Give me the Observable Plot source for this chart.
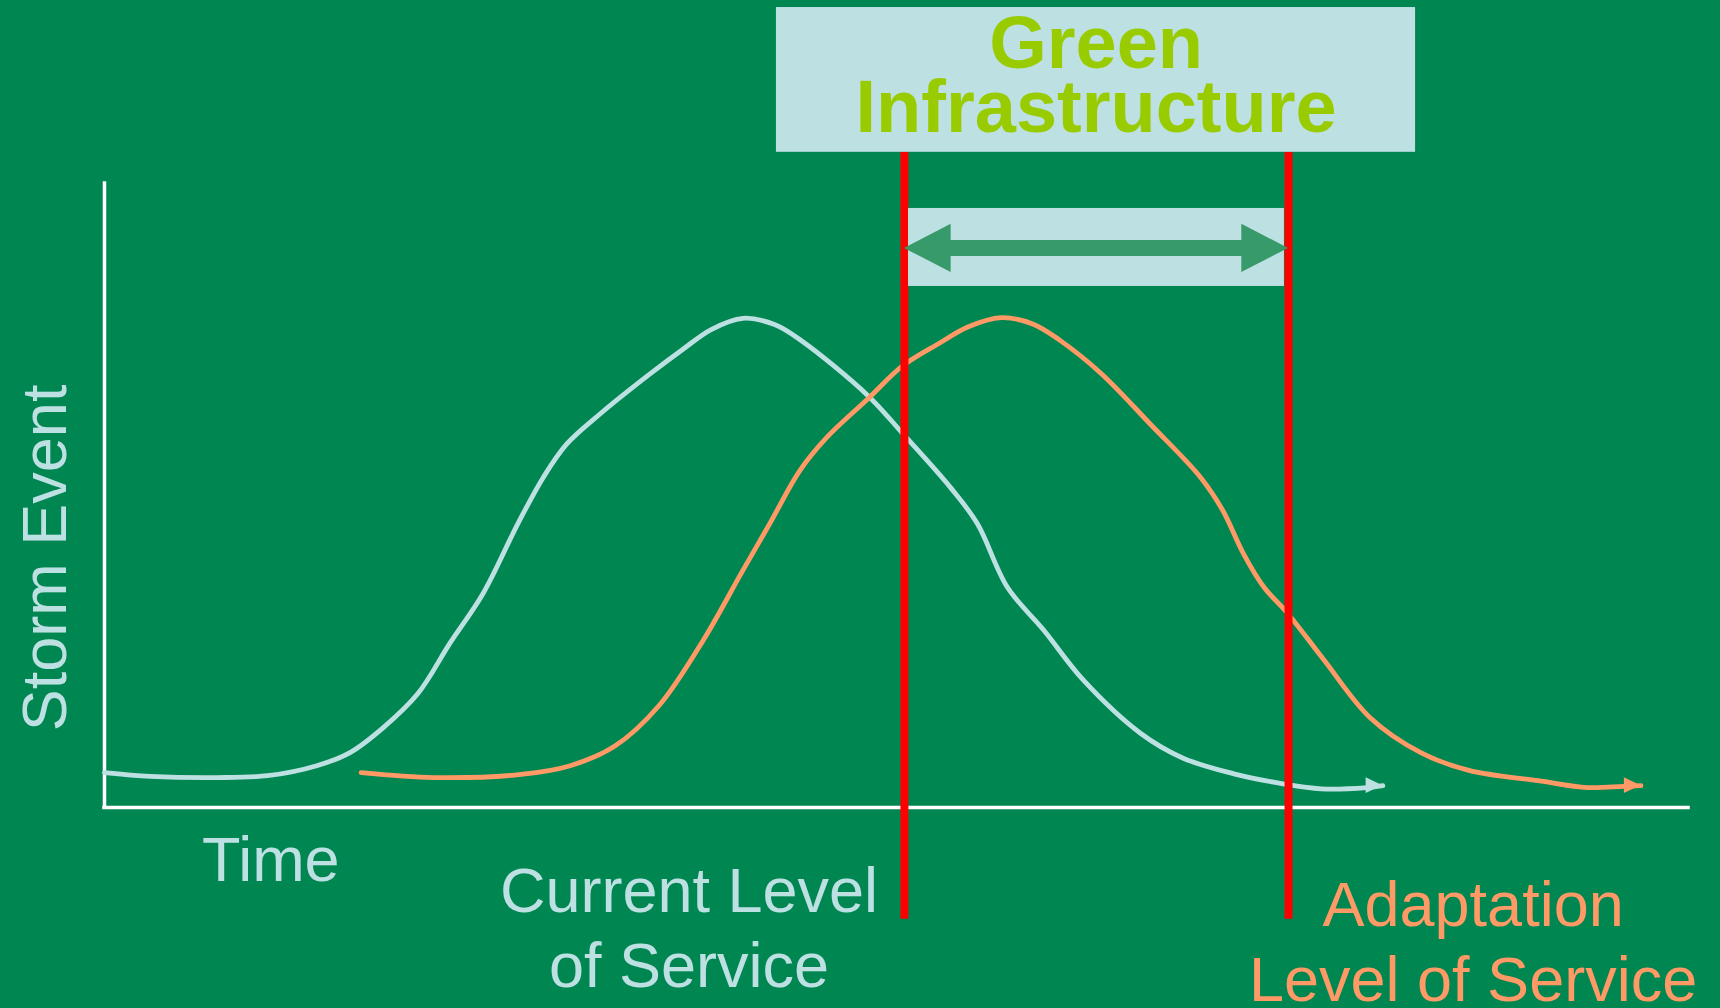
<!DOCTYPE html>
<html>
<head>
<meta charset="utf-8">
<script src="https://cdn.jsdelivr.net/npm/d3@7"></script>
<script src="https://cdn.jsdelivr.net/npm/@observablehq/plot@0.6"></script>
<style>
  html, body { margin: 0; padding: 0; background: #008651; overflow: hidden; }
  #chart svg { display: block; }
</style>
</head>
<body>
<div id="chart"></div>
<script>
// Storm hydrograph under current conditions (time, storm magnitude)
const currentTime = [0, 2.9, 7.1, 10.3, 13.4, 15.5, 17.6, 19.8, 21.8, 23.9, 26.1, 27.7, 29.2, 31.3, 34.5, 36.5, 38.3, 40.3, 42.3, 44.0, 48.2, 50.4, 53.4, 55.1, 57.0, 59.3, 61.8, 65.4, 68.1, 71.3, 74.4, 76.8, 79.7, 80.7];
const currentFlow = [5.6, 5.0, 4.8, 5.1, 6.7, 8.8, 12.8, 18.3, 26.3, 34.3, 45.5, 52.9, 58.3, 63.1, 69.6, 73.4, 76.6, 78.4, 77.4, 74.8, 66.0, 59.9, 51.3, 45.5, 35.3, 28.4, 20.4, 11.9, 7.9, 5.4, 3.8, 3.0, 3.2, 3.5];

// Storm hydrograph under future (adapted) conditions
const futureTime = [16.2, 20.8, 26.3, 29.4, 32.2, 35.0, 37.8, 40.3, 42.0, 43.9, 45.6, 48.2, 50.4, 52.7, 54.5, 56.6, 58.6, 60.3, 62.9, 66.0, 69.2, 70.6, 71.9, 73.2, 74.7, 77.0, 79.9, 83.1, 86.2, 90.5, 93.6, 95.9, 97.0];
const futureFlow = [5.6, 4.8, 5.3, 6.7, 9.8, 16.3, 26.8, 38.0, 45.5, 54.0, 59.3, 65.5, 70.8, 74.4, 77.0, 78.5, 77.5, 74.9, 69.6, 61.5, 52.9, 47.6, 40.7, 35.3, 31.1, 23.6, 14.4, 8.8, 5.9, 4.3, 3.2, 3.4, 3.5];

// Design thresholds on the time axis
const serviceLevels = [50.5, 74.75];
const serviceLabels = ["Current Level\nof Service", "Adaptation\nLevel of Service"];

const axisLabels = { x: "Time", y: "Storm Event" };
const banner = "Green\nInfrastructure";

// Palette
const bg = "#008651";
const paleBlue = "#bde0e3";
const orange = "#ff9966";
const red = "#ff0000";
const lime = "#99cc00";
const arrowGreen = "#379a6a";
const font = "'Liberation Sans', Arial, Helvetica, sans-serif";

const rows = (xs, ys) => xs.map((x, i) => ({x, y: ys[i]}));
const current = rows(currentTime, currentFlow);
const future = rows(futureTime, futureFlow);

// Filled arrowhead at the end of a series
function tipHead(series, len = 1.05, half = 1.25) {
  const t = series[series.length - 1];
  return [
    {x: t.x - len, lo: t.y - half, hi: t.y + half},
    {x: t.x, lo: t.y, hi: t.y}
  ];
}

// Block double arrow spanning the two service levels
const [lvlA, lvlB] = serviceLevels;
const arrowY = 89.6, headLen = 2.95, headHalf = 3.85, shaftHalf = 1.28;
const spanArrow = [
  {x: lvlA, lo: arrowY, hi: arrowY},
  {x: lvlA + headLen, lo: arrowY - headHalf, hi: arrowY + headHalf},
  {x: lvlA + headLen, lo: arrowY - shaftHalf, hi: arrowY + shaftHalf},
  {x: lvlB - headLen, lo: arrowY - shaftHalf, hi: arrowY + shaftHalf},
  {x: lvlB - headLen, lo: arrowY - headHalf, hi: arrowY + headHalf},
  {x: lvlB, lo: arrowY, hi: arrowY}
];

const bannerBox = {x1: 42.42, x2: 82.77, y1: 105.0, y2: 128.2};
const spanBox = {x1: 50.76, x2: 74.49, y1: 83.5, y2: 96.0};

const chart = Plot.plot({
  width: 1720,
  height: 1008,
  marginLeft: 104,
  marginRight: 32,
  marginTop: 183,
  marginBottom: 201,
  x: {domain: [0, 100], axis: null},
  y: {domain: [0, 100], axis: null},
  style: {background: bg, overflow: "visible"},
  marks: [
    // axes
    Plot.ruleX([0], {y1: 0, y2: 100, stroke: "white", strokeWidth: 3.5, strokeLinecap: "square"}),
    Plot.ruleY([0], {x1: 0, x2: 100, stroke: "white", strokeWidth: 3.5, strokeLinecap: "square"}),

    // hydrographs
    Plot.line(current, {x: "x", y: "y", stroke: paleBlue, strokeWidth: 4.8, curve: "catmull-rom", strokeLinejoin: "round"}),
    Plot.area(tipHead(current), {x1: "x", y1: "lo", y2: "hi", fill: paleBlue}),
    Plot.line(future, {x: "x", y: "y", stroke: orange, strokeWidth: 4.8, curve: "catmull-rom", strokeLinejoin: "round"}),
    Plot.area(tipHead(future), {x1: "x", y1: "lo", y2: "hi", fill: orange}),

    // service level thresholds
    Plot.ruleX(serviceLevels, {x: d => d, y1: -17.9, y2: 105.0, stroke: red, strokeWidth: 8}),

    // banner and span between thresholds
    Plot.rect([bannerBox], {x1: "x1", x2: "x2", y1: "y1", y2: "y2", fill: paleBlue}),
    Plot.rect([spanBox], {x1: "x1", x2: "x2", y1: "y1", y2: "y2", fill: paleBlue}),
    Plot.area(spanArrow, {x1: "x", y1: "lo", y2: "hi", fill: arrowGreen, curve: "linear"}),

    Plot.text([banner], {
      x: 62.6, y: 108.2, text: d => d,
      fill: lime, fontFamily: font, fontWeight: "bold", fontSize: 74,
      lineHeight: 0.865, lineAnchor: "bottom", textAnchor: "middle"
    }),

    // axis titles
    Plot.text([axisLabels.x], {
      x: 10.5, y: -11.7, text: d => d,
      fill: paleBlue, fontFamily: font, fontSize: 63,
      lineAnchor: "bottom", textAnchor: "middle"
    }),
    Plot.text([axisLabels.y], {
      x: -2.4, y: 40, text: d => d, rotate: -90,
      fill: paleBlue, fontFamily: font, fontSize: 63,
      lineAnchor: "bottom", textAnchor: "middle"
    }),

    // threshold labels
    Plot.text([serviceLabels[0]], {
      x: 36.9, y: -28.8, text: d => d,
      fill: paleBlue, fontFamily: font, fontSize: 63,
      lineHeight: 1.2, lineAnchor: "bottom", textAnchor: "middle"
    }),
    Plot.text([serviceLabels[1]], {
      x: 86.4, y: -31.0, text: d => d,
      fill: orange, fontFamily: font, fontSize: 63,
      lineHeight: 1.19, lineAnchor: "bottom", textAnchor: "middle"
    })
  ]
});

document.getElementById("chart").appendChild(chart);
</script>
</body>
</html>
